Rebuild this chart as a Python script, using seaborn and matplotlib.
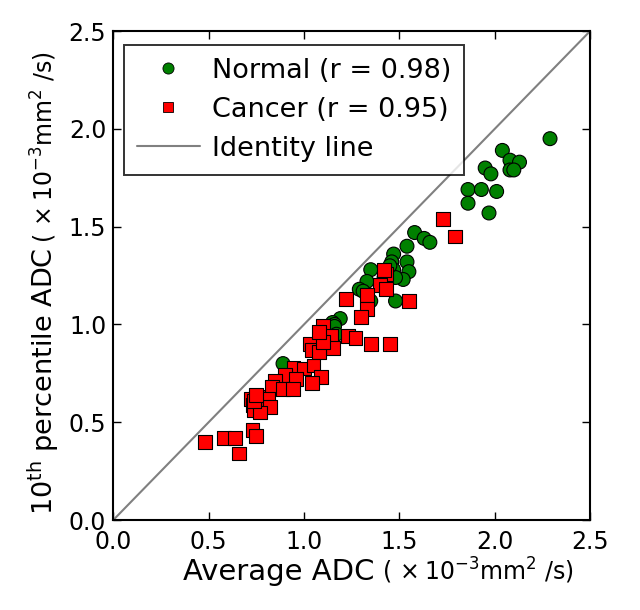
import matplotlib
matplotlib.use('Agg')
import matplotlib.pyplot as plt
import matplotlib.transforms as mtrans
import numpy as np
import pandas as pd
import seaborn as sns

# Normal tissue: (average ADC, 10th percentile ADC)
normal_x = [2.29, 2.04, 2.08, 2.13, 2.08, 2.10, 1.95, 1.98, 1.86, 1.93, 2.01, 1.86, 1.97,
            1.58, 1.63, 1.66, 1.54, 1.47, 1.46, 1.54, 1.55, 1.52, 1.35, 1.33, 1.47, 1.48,
            1.45, 1.29, 1.35, 1.48, 1.19, 1.15, 1.16, 1.16, 1.17, 0.89, 1.31, 1.42]
normal_y = [1.95, 1.89, 1.84, 1.83, 1.79, 1.79, 1.80, 1.77, 1.69, 1.69, 1.68, 1.62, 1.57,
            1.47, 1.44, 1.42, 1.40, 1.36, 1.32, 1.32, 1.27, 1.23, 1.28, 1.22, 1.28, 1.24,
            1.30, 1.18, 1.12, 1.12, 1.03, 1.01, 1.00, 0.99, 0.95, 0.80, 1.17, 1.24]

# Cancer tissue
cancer_x = [1.73, 1.79, 1.43, 1.42, 1.40, 1.43, 1.33, 1.22, 1.55, 1.33, 1.30, 1.10, 1.14,
            1.23, 1.27, 1.10, 1.03, 1.35, 1.45, 1.04, 1.15, 1.08, 1.10, 0.945, 1.00, 1.05,
            0.90, 0.96, 1.09, 1.04, 0.85, 0.83, 0.89, 0.94, 0.76, 0.72, 0.81, 0.82, 0.73,
            0.735, 0.77, 0.74, 0.75, 0.73, 0.75, 0.48, 0.58, 0.64, 0.66, 1.08]
cancer_y = [1.54, 1.45, 1.26, 1.28, 1.20, 1.18, 1.15, 1.13, 1.12, 1.08, 1.04, 0.99, 0.94,
            0.94, 0.93, 0.89, 0.90, 0.90, 0.90, 0.87, 0.88, 0.86, 0.91, 0.78, 0.775, 0.79,
            0.74, 0.72, 0.73, 0.70, 0.71, 0.68, 0.67, 0.67, 0.63, 0.62, 0.62, 0.58, 0.59,
            0.56, 0.55, 0.61, 0.64, 0.46, 0.43, 0.40, 0.42, 0.42, 0.34, 0.96]

groups = ['Normal (r = 0.98)', 'Cancer (r = 0.95)']
ticks = [0.0, 0.5, 1.0, 1.5, 2.0, 2.5]
unit_txt = r'($\,\times10^{-3}$mm$^2$ /s)'

df = pd.DataFrame({
    'avg': normal_x + cancer_x,
    'p10': normal_y + cancer_y,
    'group': [groups[0]] * len(normal_x) + [groups[1]] * len(cancer_x),
})

sns.set_style('ticks')
plt.rcParams['font.family'] = ['DejaVu Sans']
plt.rcParams['xtick.direction'] = 'in'
plt.rcParams['ytick.direction'] = 'in'
for k in ('text.color', 'axes.labelcolor', 'xtick.color', 'ytick.color'):
    plt.rcParams[k] = 'black'

fig = plt.figure(figsize=(6.4, 6.1), dpi=100)
ax = fig.add_axes([0.177, 0.1475, 0.745, 0.8015])

sns.scatterplot(
    data=df, x='avg', y='p10', hue='group', style='group',
    palette={groups[0]: 'green', groups[1]: 'red'},
    markers={groups[0]: 'o', groups[1]: 's'},
    s=100, edgecolor='black', linewidth=0.8, ax=ax, legend=False, zorder=3,
)
ax.plot([0, 2.5], [0, 2.5], color='gray', lw=1.5, zorder=2)

# legend handles
h_n = plt.Line2D([], [], marker='o', ls='none', color='green', markeredgecolor='black',
                 markeredgewidth=0.6, markersize=8)
h_c = plt.Line2D([], [], marker='s', ls='none', color='red', markeredgecolor='black',
                 markeredgewidth=0.6, markersize=7)
h_i = plt.Line2D([], [], color='gray', lw=1.5)
leg = ax.legend([h_n, h_c, h_i], groups + ['Identity line'], loc='upper left',
                fontsize=19.5, frameon=True, fancybox=False, handlelength=2.3,
                borderpad=0.48, labelspacing=0.48, handletextpad=0.45,
                borderaxespad=0, bbox_to_anchor=(0.023, 0.972))
leg.get_frame().set_edgecolor('black')
leg.get_frame().set_linewidth(1.4)

ax.set_xlim(0, 2.5)
ax.set_ylim(0, 2.5)
ax.set_xticks(ticks)
ax.set_yticks(ticks)
ax.tick_params(labelsize=17, length=6, width=1, top=True, right=True)
ax.tick_params(axis='x', pad=7)
ax.tick_params(axis='y', pad=5)
for sp in ax.spines.values():
    sp.set_linewidth(1.5)
    sp.set_color('black')

# axis labels: main words, then the unit part in a smaller size
ax.set_xlabel('Average ADC', fontsize=21, ha='left', va='baseline')
ax.xaxis.set_label_coords(0.147, -0.123)
ax.set_ylabel('10' + r'$^{\mathrm{th}}$' + ' percentile ADC', fontsize=19.5,
              ha='left', va='baseline', rotation_mode='anchor')
ax.yaxis.set_label_coords(-0.126, 0.010)

fig.canvas.draw()
inv = fig.transFigure.inverted()
xb = ax.xaxis.label.get_window_extent()
yb = ax.yaxis.label.get_window_extent()
x_end = inv.transform((xb.x1 + 7, 0))[0]
y_end = inv.transform((0, yb.y1 + 5))[1]

fig.text(x_end, -0.123, unit_txt, fontsize=17, ha='left', va='baseline',
         transform=mtrans.blended_transform_factory(fig.transFigure, ax.transAxes))
ax.text(-0.126, y_end, unit_txt, fontsize=17, ha='left', va='baseline', rotation=90,
        rotation_mode='anchor', clip_on=False,
        transform=mtrans.blended_transform_factory(ax.transAxes, fig.transFigure))

fig.savefig('out.png', dpi=100)
